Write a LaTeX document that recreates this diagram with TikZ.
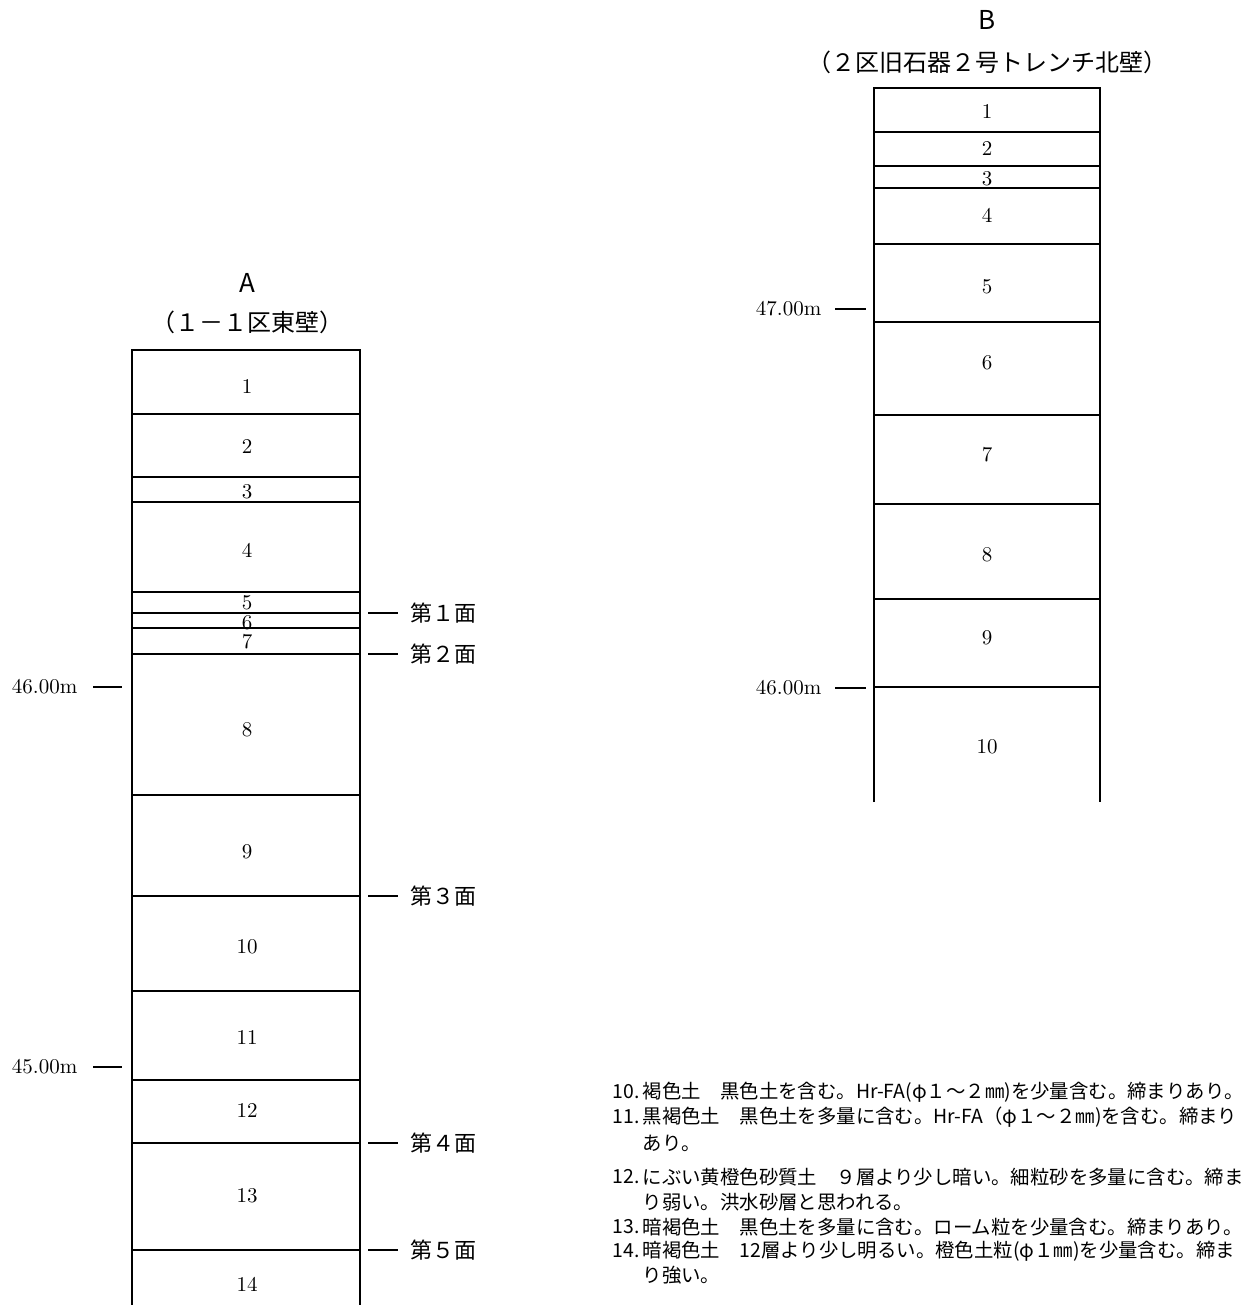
\documentclass[tikz,border=0pt]{standalone}
\usepackage{fontspec}
\newfontfamily\cjk{Noto Sans CJK JP}
\begin{document}
\begin{tikzpicture}[x=0.5pt, y=-0.5pt, line width=0.7pt]
\tikzset{
  laynum/.style={font=\fontsize{10.5}{10.5}\selectfont, inner sep=0pt},
  level/.style={font=\fontsize{10.5}{10.5}\selectfont, inner sep=0pt, anchor=east},
  face/.style={font=\cjk\fontsize{11}{11}\selectfont, inner sep=0pt, anchor=west},
  ttl/.style={font=\cjk\fontsize{13}{13}\selectfont, inner sep=0pt},
  subttl/.style={font=\cjk\fontsize{12}{12}\selectfont, inner sep=0pt},
  note/.style={font=\cjk\fontsize{9.7}{9.7}\selectfont, inner sep=0pt, anchor=west},
}
\useasboundingbox (0,0) rectangle (1250,1305);

% column A
\node[ttl] (ta) at (247,283) {A};
\node[subttl] (sa) at (247,322) {（１－１区東壁）};
\draw (132,1305) -- (132,350) -- (360,350) -- (360,1305);
\foreach \y in {414,477,502,592,613,628,654,795,896,991,1080,1143,1250}
  \draw (132,\y) -- (360,\y);
\foreach \n/\y in {1/387,2/447,3/492,4/550,5/603,6/623,7/642,8/730,9/852,10/947,11/1037,12/1110,13/1196,14/1284}
  \node[laynum] (a\n) at (247,\y) {\n};
% levels of column A
\node[level] (la46) at (78,687) {46.00m};
\draw (93,687) -- (122,687);
\node[level] (la45) at (78,1067) {45.00m};
\draw (93,1067) -- (122,1067);
% faces
\foreach \n/\y in {１/613,２/654,３/896,４/1143,５/1250}{
  \node[face] (f\n) at (410,\y) {第\n 面};
  \draw (368,\y) -- (398,\y);
}

% column B
\node[ttl] (tb) at (987,20) {B};
\node[subttl] (sb) at (987,62) {（２区旧石器２号トレンチ北壁）};
\draw (874,802) -- (874,88) -- (1100,88) -- (1100,802);
\foreach \y in {132,166,188,244,322,415,504,599,687}
  \draw (874,\y) -- (1100,\y);
\foreach \n/\y in {1/112,2/149,3/179,4/215,5/287,6/363,7/455,8/555,9/638,10/747}
  \node[laynum] (b\n) at (987,\y) {\n};
% levels of column B
\node[level] (lb47) at (822,309) {47.00m};
\draw (835,309) -- (866,309);
\node[level] (lb46) at (822,688) {46.00m};
\draw (835,688) -- (866,688);

% soil notes
\node[note] (n10) at (612,1092) {10.};
\node[note] (d10) at (642,1092) {褐色土　黒色土を含む。Hr-FA(φ１～２㎜)を少量含む。締まりあり。};
\node[note] (n11) at (612,1117) {11.};
\node[note] (d11) at (642,1117) {黒褐色土　黒色土を多量に含む。Hr-FA（φ１～２㎜)を含む。締まり};
\node[note] (e11) at (642,1143) {あり。};
\node[note] (n12) at (612,1177) {12.};
\node[note] (d12) at (642,1177) {にぶい黄橙色砂質土　９層より少し暗い。細粒砂を多量に含む。締ま};
\node[note] (e12) at (642,1202) {り弱い。洪水砂層と思われる。};
\node[note] (n13) at (612,1227) {13.};
\node[note] (d13) at (642,1227) {暗褐色土　黒色土を多量に含む。ローム粒を少量含む。締まりあり。};
\node[note] (n14) at (612,1251) {14.};
\node[note] (d14) at (642,1251) {暗褐色土　12層より少し明るい。橙色土粒(φ１㎜)を少量含む。締ま};
\node[note] (e14) at (642,1275) {り強い。};
\end{tikzpicture}
\end{document}
